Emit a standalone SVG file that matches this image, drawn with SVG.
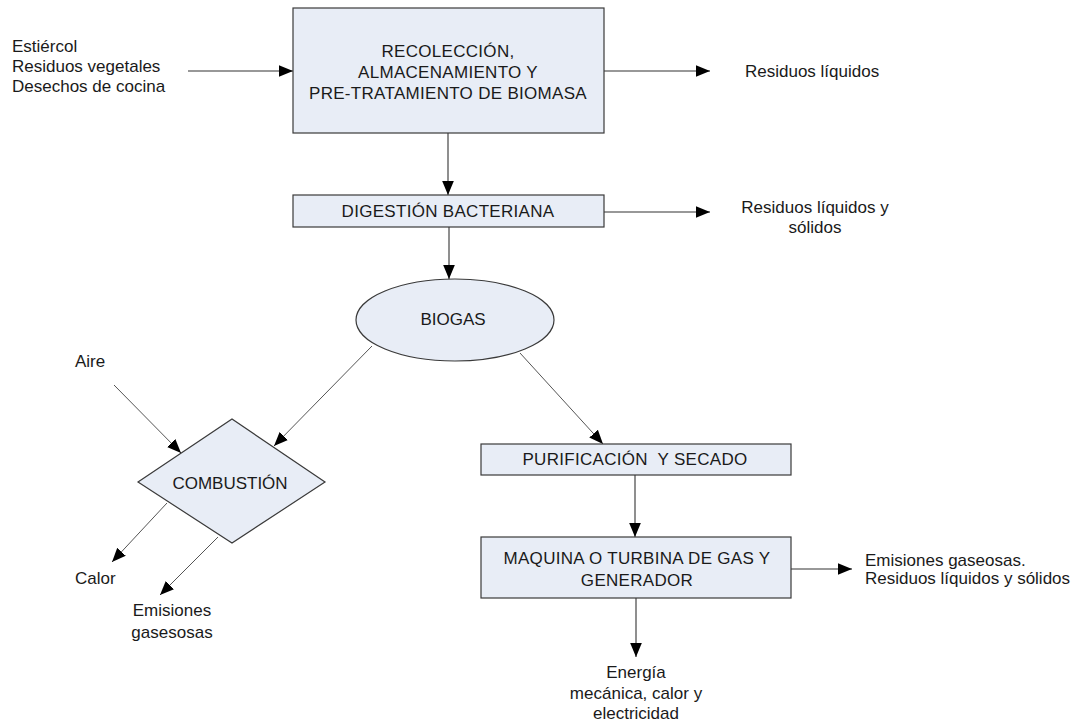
<svg xmlns="http://www.w3.org/2000/svg" width="1083" height="724" viewBox="0 0 1083 724">
<defs>
<style>
text{font-family:"Liberation Sans",Arial,sans-serif;font-size:17px;fill:#1a1a1a;white-space:pre}
.c{text-anchor:middle}
.w{letter-spacing:0.3px}
.box{fill:#e8edf6;stroke:#3a3a3a;stroke-width:1.2}
.ln{fill:none;stroke:#333;stroke-width:1.1}
.dg{fill:none;stroke:#555;stroke-width:1}
</style>
<marker id="ah" viewBox="0 0 12 10" refX="12" refY="5" markerWidth="14" markerHeight="12" markerUnits="userSpaceOnUse" orient="auto">
<path d="M0,0 L12,5 L0,10 Z" fill="#000"/>
</marker>
</defs>
<rect width="1083" height="724" fill="#fff"/>
<g id="connectors">
<path class="ln" d="M188,71 L293,71" marker-end="url(#ah)"/>
<path class="ln" d="M604,71 L710,71" marker-end="url(#ah)"/>
<path class="ln" d="M448,133 L448,195" marker-end="url(#ah)"/>
<path class="ln" d="M604,212 L710,212" marker-end="url(#ah)"/>
<path class="ln" d="M449,227 L449,279" marker-end="url(#ah)"/>
<path class="dg" d="M372,346 L274,446" marker-end="url(#ah)"/>
<path class="dg" d="M520,353 L603,444" marker-end="url(#ah)"/>
<path class="dg" d="M114,385 L181,453" marker-end="url(#ah)"/>
<path class="dg" d="M167,503 L112,562" marker-end="url(#ah)"/>
<path class="dg" d="M218,537 L160,595" marker-end="url(#ah)"/>
<path class="ln" d="M635,475 L635,537" marker-end="url(#ah)"/>
<path class="ln" d="M791,569 L852,569" marker-end="url(#ah)"/>
<path class="ln" d="M636,598 L636,657" marker-end="url(#ah)"/>
</g>
<g id="inputs">
<text x="12" y="52">Estiércol</text>
<text x="12" y="72">Residuos vegetales</text>
<text x="12" y="92">Desechos de cocina</text>
</g>
<g id="recoleccion">
<rect class="box" x="293" y="8" width="311" height="125"/>
<text class="c w" x="448" y="57">RECOLECCIÓN,</text>
<text class="c w" x="448" y="78">ALMACENAMIENTO Y</text>
<text class="c w" x="448" y="99">PRE-TRATAMIENTO DE BIOMASA</text>
</g>
<g id="residuos1"><text x="745" y="77">Residuos líquidos</text></g>
<g id="digestion">
<rect class="box" x="293" y="195" width="311" height="32"/>
<text class="c w" x="448" y="217">DIGESTIÓN BACTERIANA</text>
</g>
<g id="residuos2">
<text class="c" x="815" y="213">Residuos líquidos y</text>
<text class="c" x="815" y="233">sólidos</text>
</g>
<g id="biogas">
<ellipse class="box" cx="455" cy="320" rx="99" ry="41"/>
<text class="c" x="453" y="325">BIOGAS</text>
</g>
<g id="aire"><text x="75" y="367">Aire</text></g>
<g id="combustion">
<polygon class="box" points="138,482 232,419 325,482 232,543"/>
<text class="c" x="230" y="489">COMBUSTIÓN</text>
</g>
<g id="calor"><text x="75" y="584">Calor</text></g>
<g id="emisiones1">
<text class="c" x="172" y="616">Emisiones</text>
<text class="c" x="172" y="638">gasesosas</text>
</g>
<g id="purificacion">
<rect class="box" x="481" y="444" width="310" height="31"/>
<text class="c w" x="635" y="465">PURIFICACIÓN  Y SECADO</text>
</g>
<g id="maquina">
<rect class="box" x="481" y="537" width="310" height="61"/>
<text class="c w" x="637" y="564">MAQUINA O TURBINA DE GAS Y</text>
<text class="c w" x="637" y="586">GENERADOR</text>
</g>
<g id="emisiones2">
<text x="865" y="566">Emisiones gaseosas.</text>
<text x="865" y="584">Residuos líquidos y sólidos</text>
</g>
<g id="energia">
<text class="c" x="636" y="678">Energía</text>
<text class="c" x="636" y="699">mecánica, calor y</text>
<text class="c" x="636" y="719">electricidad</text>
</g>
</svg>
